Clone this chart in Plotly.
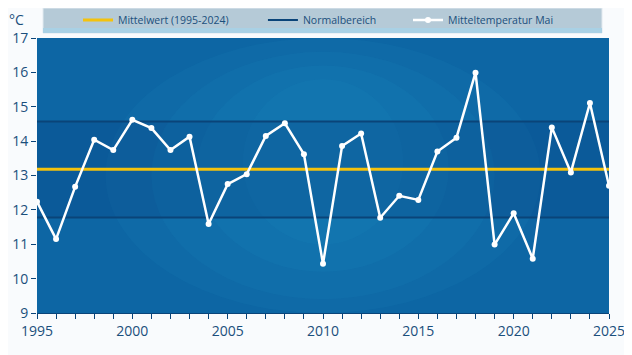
import plotly.graph_objects as go

years = list(range(1995, 2026))
temps = [12.24, 11.15, 12.67, 14.04, 13.74, 14.62, 14.38, 13.74, 14.13, 11.59,
         12.75, 13.04, 14.15, 14.52, 13.62, 10.43, 13.86, 14.22, 11.77, 12.41,
         12.29, 13.70, 14.10, 15.99, 10.99, 11.90, 10.58, 14.40, 13.09, 15.11, 12.70]
mean_value = 13.18
normal_low = 11.78
normal_high = 14.57
x_ticks = [1995, 2000, 2005, 2010, 2015, 2020, 2025]
y_ticks = [9, 10, 11, 12, 13, 14, 15, 16, 17]

txt = "#1b4f7c"
navy = "#0a4479"

fig = go.Figure()

fig.add_trace(go.Scatter(x=[years[0], years[-1]], y=[mean_value, mean_value], mode="lines",
                         line=dict(color="#f4c20d", width=3), name="Mittelwert (1995-2024)",
                         hoverinfo="skip", legend="legend"))
fig.add_trace(go.Scatter(x=[years[0], years[-1], None, years[0], years[-1]],
                         y=[normal_high, normal_high, None, normal_low, normal_low], mode="lines",
                         line=dict(color=navy, width=2), name="Normalbereich", hoverinfo="skip",
                         legend="legend2"))
fig.add_trace(go.Scatter(x=years, y=temps, mode="lines+markers",
                         line=dict(color="white", width=2.5),
                         marker=dict(color="white", size=6),
                         name="Mitteltemperatur Mai", legend="legend3"))

shapes = []
# soft lighter glow in the middle of the plot background
for i, (x0, x1, y0, y1) in enumerate([(0.12, 0.88, -0.05, 1.0), (0.2, 0.8, 0.05, 0.95),
                                       (0.28, 0.72, 0.15, 0.9), (0.36, 0.64, 0.25, 0.85)]):
    shapes.append(dict(type="circle", xref="x domain", yref="y domain", x0=x0, x1=x1,
                       y0=max(y0, 0), y1=y1, fillcolor="rgba(45,165,215,0.07)",
                       line_width=0, layer="below"))
shapes += [
    dict(type="rect", xref="x domain", yref="y", x0=0, x1=1, y0=normal_low, y1=normal_high,
         fillcolor="rgba(5,45,110,0.20)", line_width=0, layer="below"),
    # legend box
    dict(type="rect", xref="paper", yref="paper", x0=0.0105, x1=0.9878, y0=1.018, y1=1.109,
         fillcolor="#b5cad7", line=dict(color="#e2eaf0", width=1), layer="below"),
    dict(type="rect", xref="paper", yref="paper", x0=0.0105, x1=0.9878, y0=1.018, y1=1.036,
         fillcolor="#a9d1e5", line_width=0, layer="below"),
]

leg_common = dict(orientation="h", y=1.0655, xanchor="left", yanchor="middle",
                  font=dict(family="Open Sans", size=10.5, color=txt),
                  bgcolor="rgba(0,0,0,0)", itemwidth=30)

fig.update_layout(
    width=624, height=347,
    margin=dict(l=29, r=23, t=30, b=42, autoexpand=False),
    paper_bgcolor="#f9fbfd",
    plot_bgcolor="#0d66a4",
    showlegend=True,
    legend=dict(x=0.0717, **leg_common),
    legend2=dict(x=0.395, **leg_common),
    legend3=dict(x=0.6486, **leg_common),
    shapes=shapes,
    xaxis=dict(range=[1995, 2025], tickmode="array", tickvals=x_ticks,
               ticktext=[str(v) for v in x_ticks],
               showgrid=False, zeroline=False, showline=True, linecolor=navy, linewidth=1,
               ticks="outside", ticklen=5, tickcolor=navy,
               minor=dict(dtick=1, ticks="outside", ticklen=5, tickcolor=navy, showgrid=False),
               tickfont=dict(family="Open Sans", size=14, color=txt)),
    yaxis=dict(range=[9, 17], tickmode="array", tickvals=y_ticks,
               showgrid=False, zeroline=False, showline=False,
               ticks="outside", ticklen=5, tickcolor=navy,
               tickfont=dict(family="Open Sans", size=14, color=txt)),
    annotations=[dict(text="°C", xref="paper", yref="paper", x=-0.0367, y=1.0655,
                      xanchor="center", yanchor="middle", showarrow=False,
                      font=dict(family="Open Sans", size=14, color=txt))],
)

fig.write_html("out.html")
